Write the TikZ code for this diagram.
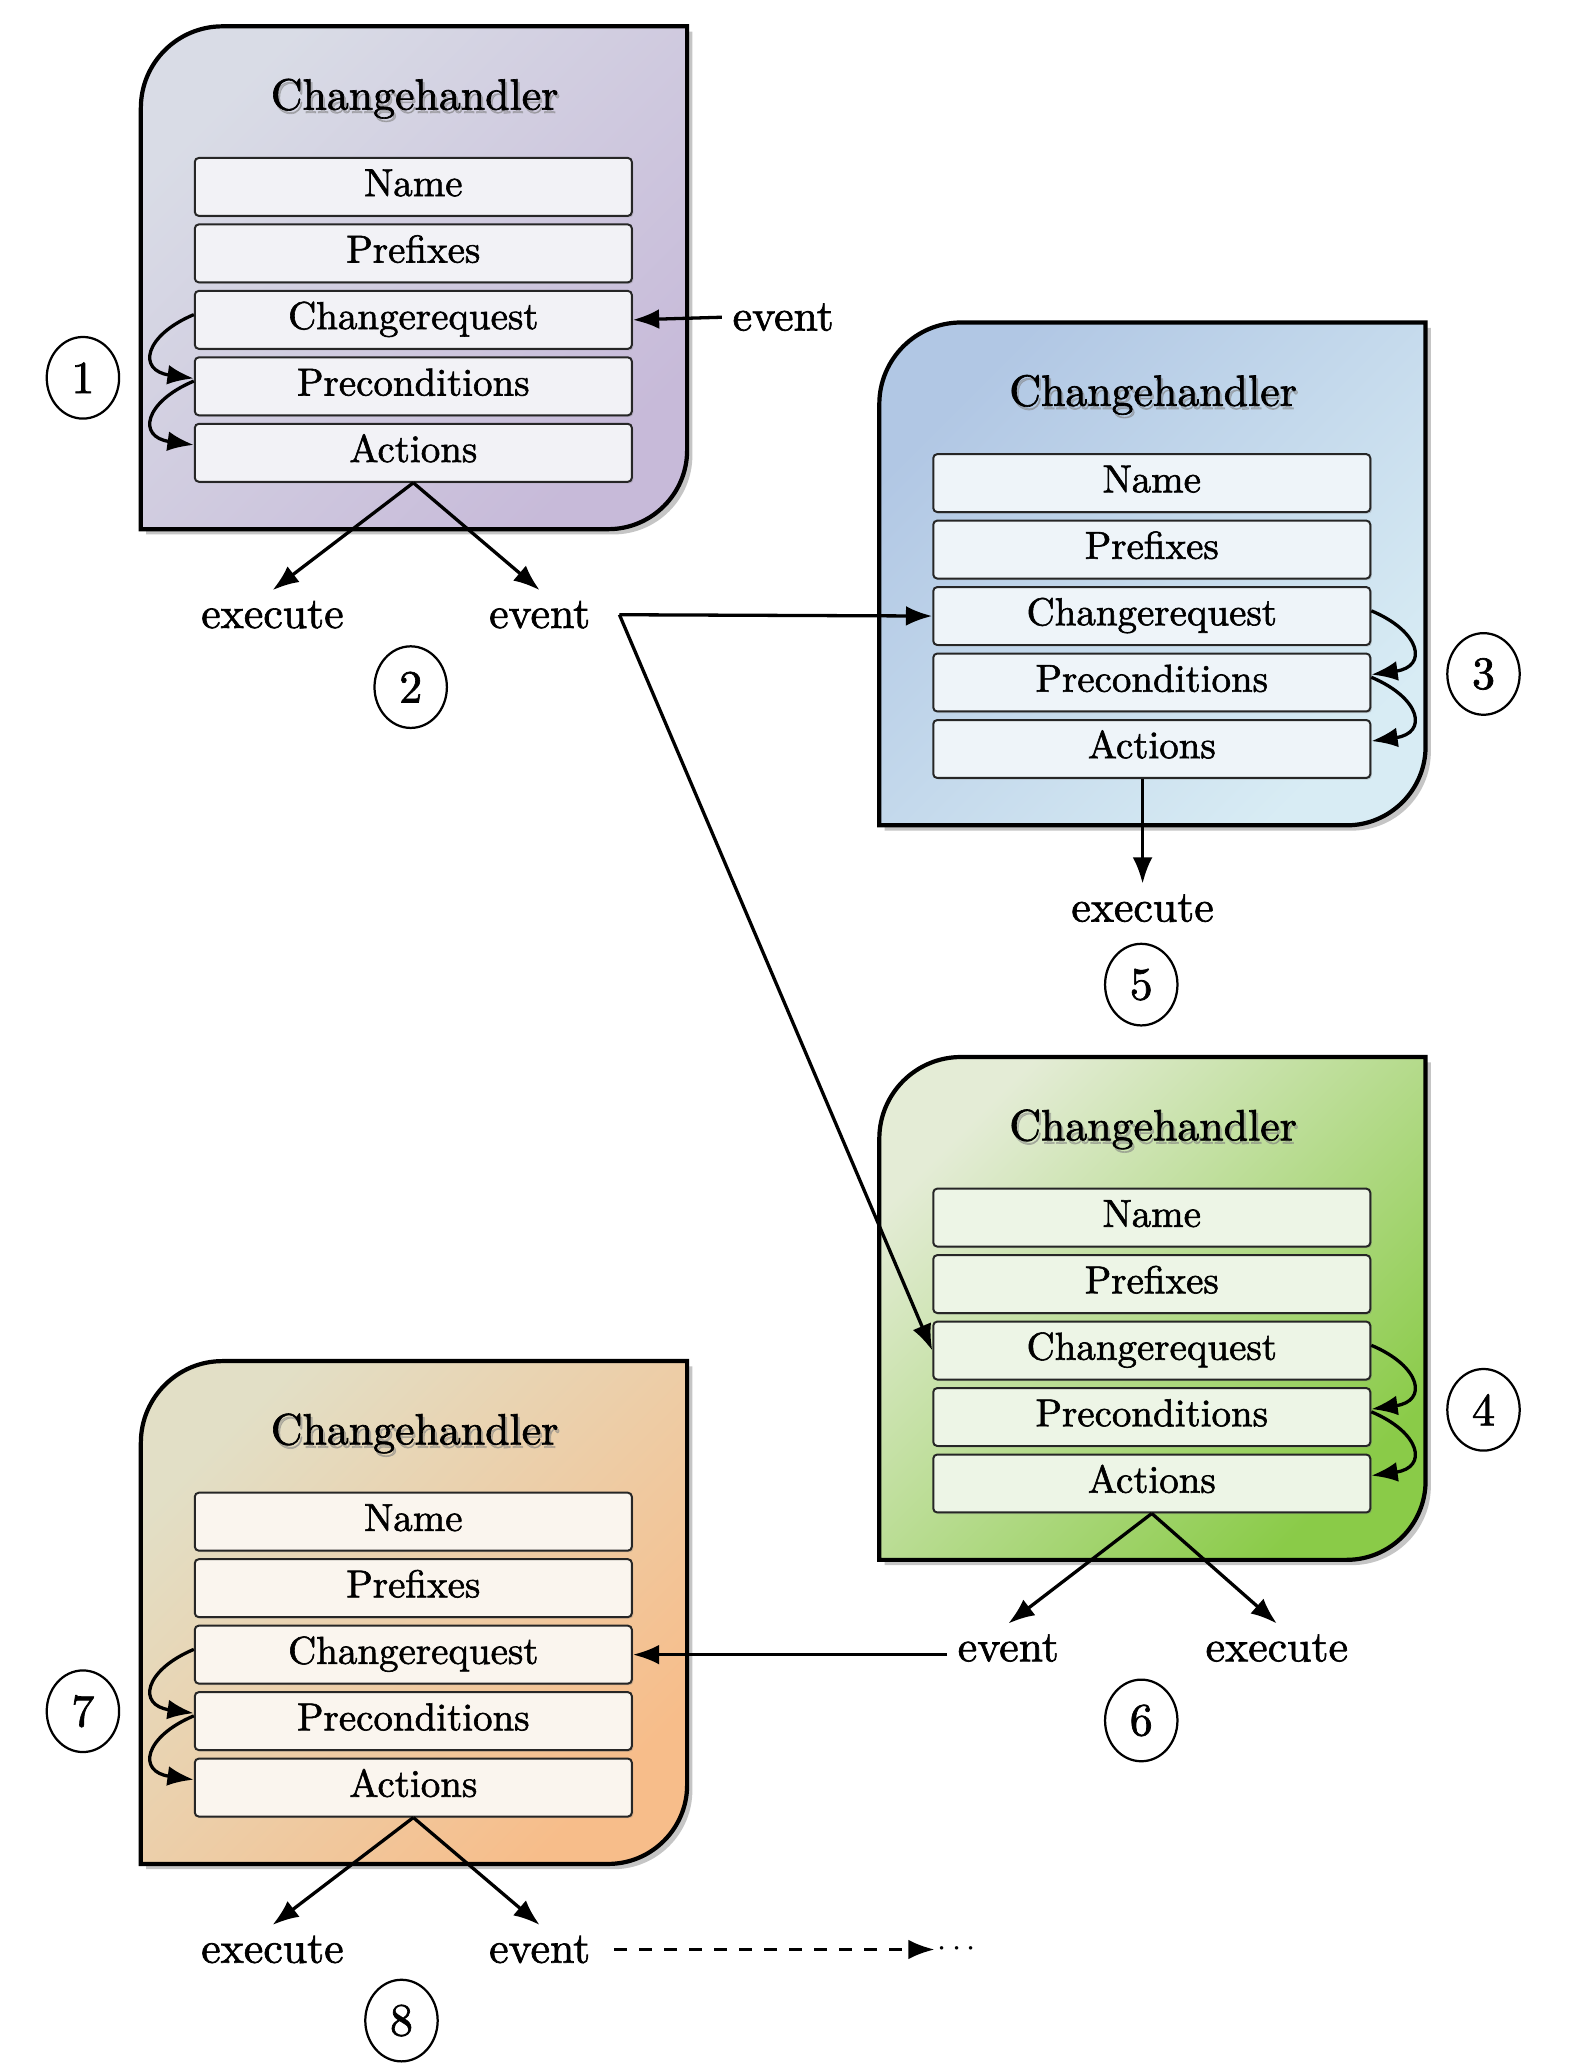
\documentclass[tikz,border=0pt]{standalone}
\usepackage{fontspec}
\setmainfont{lmroman10-regular.otf}[FakeBold=1.5]
\usetikzlibrary{arrows.meta,shadows,calc,shapes.geometric}

\newcommand\rowfont{\fontsize{29.6}{34}\selectfont}
\newcommand\lblfont{\fontsize{33.3}{40}\selectfont}
\newcommand\numfont{\fontsize{35}{40}\selectfont}
\newcommand\dotsfont{\fontsize{24}{28}\selectfont}

% handler colours: top-left, bottom-right, row fill
\definecolor{purpleA}{RGB}{217,220,230}
\definecolor{purpleB}{RGB}{199,186,217}
\definecolor{purpleRow}{RGB}{242,242,246}
\definecolor{blueA}{RGB}{177,199,228}
\definecolor{blueB}{RGB}{216,236,244}
\definecolor{blueRow}{RGB}{238,244,249}
\definecolor{greenA}{RGB}{228,236,214}
\definecolor{greenB}{RGB}{138,203,72}
\definecolor{greenRow}{RGB}{237,245,230}
\definecolor{sandA}{RGB}{226,223,198}
\definecolor{sandB}{RGB}{247,189,138}
\definecolor{sandRow}{RGB}{250,245,238}

\tikzset{
  handler/.style={draw=black, line width=3.2pt,
    drop shadow={shadow xshift=4pt, shadow yshift=-4pt, opacity=0.45}},
  rowbox/.style={draw=black!85, line width=1.5pt, rounded corners=3pt,
    minimum width=332pt, minimum height=44pt, inner sep=0pt,
    text height=20pt, text depth=6pt, font=\rowfont,
    drop shadow={shadow xshift=1.2pt, shadow yshift=-1.2pt, opacity=0.3}},
  headline/.style={font=\lblfont},
  lbl/.style={font=\lblfont, inner sep=8pt},
  num/.style={draw, line width=1.7pt, ellipse, minimum width=55pt,
    minimum height=62pt, inner sep=0pt, font=\numfont},
  conn/.style={line width=2.5pt, -{Latex[length=20pt,width=15pt]}},
  flow/.style={conn, dash pattern=on 10pt off 9pt},
}

% #1 name prefix, #2/#3 top-left corner, #4/#5 shading colours, #6 row fill
\newcommand\drawhandler[6]{%
  \path[handler, left color=#4, right color=#5, shading angle=45]
    (#2,#3+382) -- (#2,#3+62)
    .. controls (#2,#3+27.8) and (#2+27.8,#3) .. (#2+62,#3)
    -- (#2+415,#3) -- (#2+415,#3+322)
    .. controls (#2+415,#3+355.1) and (#2+388.1,#3+382) .. (#2+355,#3+382)
    -- cycle;
  \node[headline, text=black!50, opacity=0.45] at (#2+209.5,#3+57.5) {Changehandler};
  \node[headline] (#1t) at (#2+208,#3+55) {Changehandler};
  \node[rowbox, fill=#6] (#1n) at (#2+207,#3+122) {Name};
  \node[rowbox, fill=#6] (#1p) at (#2+207,#3+172.5) {Prefixes};
  \node[rowbox, fill=#6] (#1c) at (#2+207,#3+223) {Changerequest};
  \node[rowbox, fill=#6] (#1r) at (#2+207,#3+273.5) {Preconditions};
  \node[rowbox, fill=#6] (#1a) at (#2+207,#3+324) {Actions};
}

\begin{document}
\begin{tikzpicture}[x=1pt,y=-1pt]
\useasboundingbox[fill=white] (0,0) rectangle (1196,1568);

\drawhandler{A}{107}{20}{purpleA}{purpleB}{purpleRow}
\drawhandler{B}{668}{245}{blueA}{blueB}{blueRow}
\drawhandler{C}{668}{803}{greenA}{greenB}{greenRow}
\drawhandler{D}{107}{1034}{sandA}{sandB}{sandRow}

% step numbers
\node[num] (n1) at (63,287) {1};
\node[num] (n2) at (312,522) {2};
\node[num] (n3) at (1127,512) {3};
\node[num] (n4) at (1127,1071) {4};
\node[num] (n5) at (867,748) {5};
\node[num] (n6) at (867,1307) {6};
\node[num] (n7) at (63,1300) {7};
\node[num] (n8) at (305,1535) {8};

% first handler
\node[lbl] (evA) at (595,241) {event};
\draw[conn] (evA.west) -- (Ac.east);
\draw[conn] ($(Ac.west)+(0,-4)$) .. controls +(-38,16) and +(-43,-6) .. ($(Ar.west)+(0,-6)$);
\draw[conn] ($(Ar.west)+(0,-4)$) .. controls +(-38,16) and +(-43,-6) .. ($(Aa.west)+(0,-6)$);
\node[lbl] (exA) at (207,467) {execute};
\node[lbl] (ouA) at (410,467) {event};
\draw[conn] (Aa.south) -- (exA.north);
\draw[conn] (Aa.south) -- (ouA.north);
\coordinate (fork) at ($(ouA.east)+(14,0)$);
\draw[conn] (fork) -- (Bc.west);
\draw[conn] (fork) -- (Cc.west);

% second handler
\draw[conn] ($(Bc.east)+(0,-4)$) .. controls +(38,16) and +(43,-6) .. ($(Br.east)+(0,-6)$);
\draw[conn] ($(Br.east)+(0,-4)$) .. controls +(38,16) and +(43,-6) .. ($(Ba.east)+(0,-6)$);
\node[lbl] (exB) at (868,690) {execute};
\draw[conn] (Ba.south -| exB.north) -- (exB.north);

% third handler
\draw[conn] ($(Cc.east)+(0,-4)$) .. controls +(38,16) and +(43,-6) .. ($(Cr.east)+(0,-6)$);
\draw[conn] ($(Cr.east)+(0,-4)$) .. controls +(38,16) and +(43,-6) .. ($(Ca.east)+(0,-6)$);
\node[lbl] (ouC) at (766,1252) {event};
\node[lbl] (exC) at (970,1252) {execute};
\draw[conn] (Ca.south) -- (ouC.north);
\draw[conn] (Ca.south) -- (exC.north);
\draw[conn] (Dc.east -| ouC.west) -- (Dc.east);

% fourth handler
\draw[conn] ($(Dc.west)+(0,-4)$) .. controls +(-38,16) and +(-43,-6) .. ($(Dr.west)+(0,-6)$);
\draw[conn] ($(Dr.west)+(0,-4)$) .. controls +(-38,16) and +(-43,-6) .. ($(Da.west)+(0,-6)$);
\node[lbl] (exD) at (207,1481) {execute};
\node[lbl] (ouD) at (410,1481) {event};
\draw[conn] (Da.south) -- (exD.north);
\draw[conn] (Da.south) -- (ouD.north);
\node[anchor=west, inner sep=2pt, font=\dotsfont] (more) at (710,1481) {$\cdots$};
\draw[flow] ($(ouD.east)+(10,0)$) -- (more.west);
\end{tikzpicture}
\end{document}
